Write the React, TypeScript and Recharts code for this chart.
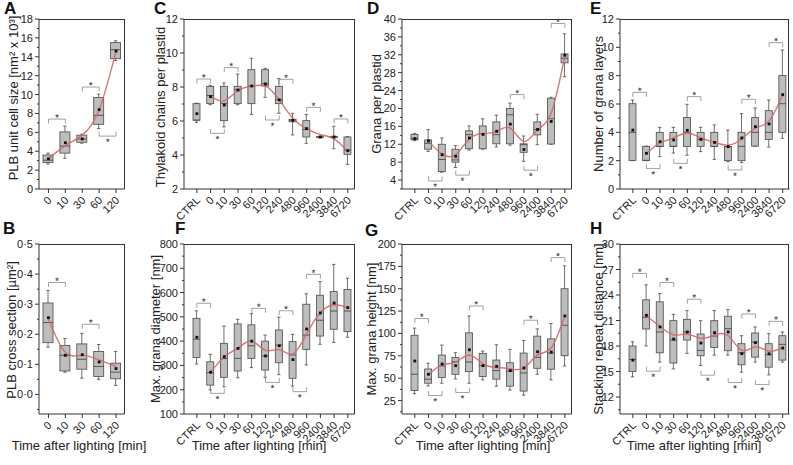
import { ComposedChart, Bar, Line, XAxis, YAxis, ReferenceLine } from 'recharts'

const SHORT_CATS = ['0', '10', '30', '60', '120']
const LONG_CATS = ['CTRL', '0', '10', '30', '60', '120', '240', '480', '960', '2400', '3840', '6720']

// box stats per time point: [min, q1, median, q3, max]
const A_BOX = [
    [2.65, 2.8, 3.05, 3.6, 3.8],
    [3.25, 3.8, 4.55, 6.05, 6.65],
    [4.85, 4.95, 5.3, 5.7, 5.8],
    [6.4, 6.85, 7.8, 9.7, 10.05],
    [13.6, 13.8, 14.75, 15.5, 15.7],
]
const A_MEAN = [3.2, 4.9, 5.3, 8.4, 14.6]
const A_FIT = [3.2, 4.6, 5.7, 8.4, 14.6]
const A_TICKS = [0, 2, 4, 6, 8, 10, 12, 14, 16, 18]
// significance brackets: [from, to, y, side] (side 1 = star above, -1 = star below)
const A_SIG = [['0', '10', 7.4, 1], ['30', '60', 10.8, 1], ['60', '120', 5.6, -1]]

const B_BOX = [
    [0.157, 0.172, 0.239, 0.304, 0.346],
    [0.074, 0.078, 0.13, 0.163, 0.186],
    [0.054, 0.084, 0.117, 0.168, 0.203],
    [0.05, 0.06, 0.093, 0.143, 0.166],
    [0.03, 0.052, 0.074, 0.104, 0.143],
]
const B_MEAN = [0.255, 0.13, 0.132, 0.108, 0.086]
const B_FIT = [0.25, 0.14, 0.13, 0.115, 0.093]
const B_TICKS = [0, 0.1, 0.2, 0.3, 0.4, 0.5]
const B_SIG = [['0', '10', 0.372, 1], ['30', '60', 0.233, 1]]

const C_BOX = [
    [5.92, 6.05, 6.05, 7.02, 7.05],
    [6.96, 7.02, 7.5, 8.04, 8.1],
    [5.65, 6.02, 7.04, 8.04, 8.24],
    [6.96, 7.02, 7.86, 8.04, 8.76],
    [6.39, 7.02, 8.06, 9.02, 9.69],
    [7.39, 8.06, 8.2, 9.02, 9.1],
    [6.45, 7.02, 7.25, 8.04, 8.5],
    [5.18, 5.95, 6.04, 6.1, 6.45],
    [4.69, 5.06, 5.5, 6.02, 6.39],
    [5.0, 5.04, 5.06, 5.08, 5.1],
    [4.37, 5.02, 5.06, 5.1, 5.69],
    [3.45, 4.04, 4.3, 5.06, 5.08],
]
const C_MEAN = [6.43, 7.43, 6.94, 7.82, 8.06, 8.18, 7.24, 6.04, 5.55, 5.06, 5.06, 4.25]
const C_FIT = [null, 7.45, 7.2, 7.8, 8.05, 8.05, 7.25, 6.15, 5.55, 5.2, 4.95, 4.2]
const C_TICKS = [2, 4, 6, 8, 10, 12]
const C_SIG = [
    ['CTRL', '0', 8.47, 1], ['0', '10', 5.27, -1], ['10', '30', 9.14, 1], ['120', '240', 6.06, -1],
    ['240', '480', 8.45, 1], ['960', '2400', 6.8, 1], ['3840', '6720', 6.12, 1],
]

const D_BOX = [
    [12.8, 12.97, 13.3, 14.23, 14.4],
    [10.4, 10.9, 12.2, 12.97, 15.26],
    [5.75, 5.9, 8.6, 12.0, 13.4],
    [6.8, 8.0, 8.5, 10.9, 11.7],
    [10.7, 11.0, 14.15, 15.0, 16.1],
    [10.9, 11.0, 14.4, 16.1, 17.7],
    [11.4, 12.1, 14.15, 17.0, 18.5],
    [11.8, 12.1, 18.6, 20.0, 21.2],
    [8.2, 10.2, 11.9, 12.1, 13.85],
    [11.9, 14.1, 15.3, 17.0, 18.7],
    [12.0, 12.05, 17.7, 22.3, 22.5],
    [27.1, 30.2, 31.2, 32.2, 36.7],
]
const D_MEAN = [13.27, 12.75, 9.66, 9.3, 13.4, 14.2, 14.9, 16.5, 10.84, 15.3, 17.1, 31.9]
const D_FIT = [null, 12.7, 9.8, 9.7, 13.2, 14.4, 14.9, 15.6, 12.6, 15.2, 19.0, 31.8]
const D_TICKS = [4, 8, 12, 16, 20, 24, 28, 32, 36, 40]
const D_SIG = [
    ['0', '10', 3.8, -1], ['30', '60', 5.1, -1], ['480', '960', 23.1, 1],
    ['960', '2400', 6.2, -1], ['3840', '6720', 39.0, 1],
]

const E_BOX = [
    [2.0, 2.02, 4.0, 6.02, 6.28],
    [2.0, 2.02, 2.02, 3.01, 3.03],
    [2.28, 3.01, 3.01, 4.0, 4.35],
    [2.54, 3.01, 3.01, 4.0, 4.35],
    [2.38, 3.01, 4.0, 5.04, 5.98],
    [2.64, 3.01, 3.5, 4.0, 4.35],
    [2.09, 3.01, 3.01, 4.0, 4.52],
    [1.93, 2.0, 3.0, 3.01, 4.16],
    [1.86, 2.0, 3.01, 4.0, 5.32],
    [3.01, 3.03, 4.0, 5.04, 5.72],
    [2.96, 3.5, 4.0, 5.53, 6.28],
    [3.58, 4.0, 6.02, 8.02, 9.81],
]
const E_MEAN = [4.16, 2.52, 3.34, 3.46, 4.14, 3.5, 3.29, 2.99, 3.6, 4.4, 4.59, 6.66]
const E_FIT = [null, 2.5, 3.25, 3.6, 3.95, 3.6, 3.3, 3.1, 3.55, 4.3, 4.8, 6.65]
const E_TICKS = [0, 2, 4, 6, 8, 10, 12]
const E_SIG = [
    ['CTRL', '0', 6.82, 1], ['0', '10', 1.44, -1], ['30', '60', 1.81, -1], ['60', '120', 6.52, 1],
    ['480', '960', 1.34, -1], ['960', '2400', 6.33, 1], ['3840', '6720', 10.33, 1],
]

const F_BOX = [
    [306, 333, 408, 494, 525],
    [199, 219, 270, 315, 346],
    [212, 251, 328, 391, 462],
    [249, 277, 329, 471, 490],
    [291, 329, 381, 467, 513],
    [251, 281, 339, 400, 425],
    [262, 311, 384, 446, 499],
    [215, 247, 343, 398, 428],
    [302, 366, 425, 552, 595],
    [387, 421, 486, 589, 645],
    [395, 449, 524, 604, 716],
    [416, 439, 524, 613, 659],
]
const F_MEAN = [416, 272, 336, 370, 400, 339, 381, 324, 450, 516, 557, 538]
const F_FIT = [null, 272, 336, 372, 400, 362, 365, 348, 430, 518, 550, 538]
const F_TICKS = [100, 200, 300, 400, 500, 600, 700, 800]
const F_SIG = [
    ['CTRL', '0', 556, 1], ['0', '10', 185, -1], ['60', '120', 535, 1], ['120', '240', 230, -1],
    ['240', '480', 525, 1], ['480', '960', 192, -1], ['960', '2400', 675, 1],
]

const G_BOX = [
    [32.6, 36.3, 54.4, 98, 106],
    [41.4, 44.4, 48.9, 60.3, 66.7],
    [44.4, 50.7, 63.7, 75.9, 87],
    [49.2, 54.4, 68.5, 73.3, 78.5],
    [44.4, 57.4, 68.1, 100.7, 119.6],
    [48.1, 51.8, 64, 77.8, 80.3],
    [41.1, 48.9, 58.5, 70.3, 87.4],
    [36.7, 41.1, 58, 67.3, 82.2],
    [31.1, 35.6, 55.9, 78.1, 92.2],
    [54.4, 61.1, 73.3, 97, 105.1],
    [48.1, 60, 78.1, 94, 111.1],
    [63.7, 75.1, 109.2, 150, 175.6],
]
const G_MEAN = [69.2, 54.4, 65.9, 64, 81.8, 64, 63.3, 58.5, 61.4, 79.6, 79.2, 119.6]
const G_FIT = [null, 54, 65, 68, 76, 66, 62, 60.5, 61.5, 76, 84, 119.6]
const G_TICKS = [25, 50, 75, 100, 125, 150, 175, 200]
const G_SIG = [
    ['CTRL', '0', 116.7, 1], ['0', '10', 30.7, -1], ['30', '60', 34, -1],
    ['60', '120', 130.7, 1], ['960', '2400', 114.8, 1], ['3840', '6720', 184.8, 1],
]

const H_BOX = [
    [14.37, 15.0, 16.42, 18.0, 18.5],
    [18.0, 20.0, 21.38, 23.43, 25.2],
    [16.1, 17.2, 19.65, 23.2, 24.17],
    [15.31, 16.0, 18.7, 20.98, 21.73],
    [17.13, 18.7, 19.65, 21.14, 22.17],
    [15.71, 16.85, 17.48, 19.41, 20.98],
    [16.93, 17.83, 19.17, 20.98, 22.17],
    [16.93, 17.44, 20.04, 21.5, 22.28],
    [14.92, 15.79, 17.2, 18.27, 19.21],
    [16.1, 16.69, 18.46, 19.53, 20.24],
    [14.6, 15.51, 16.97, 18.27, 19.45],
    [16.1, 16.34, 18.19, 19.21, 19.65],
]
const H_MEAN = [16.34, 21.61, 20.24, 18.82, 19.65, 18.35, 19.57, 19.65, 17.1, 18.39, 17.09, 17.76]
const H_FIT = [null, 21.5, 20.3, 19.3, 19.4, 18.9, 19.3, 19.2, 17.5, 17.9, 17.4, 17.8]
const H_TICKS = [12, 15, 18, 21, 24, 27, 30]
const H_SIG = [
    ['CTRL', '0', 26.54, 1], ['0', '10', 15.04, -1], ['10', '30', 25.47, 1], ['60', '120', 23.5, 1],
    ['120', '240', 14.57, -1], ['480', '960', 13.7, -1], ['960', '2400', 21.77, 1],
    ['2400', '3840', 13.46, -1], ['3840', '6720', 20.9, 1],
]

const FONT = "'Liberation Sans', Arial, Helvetica, sans-serif"
const AXIS = '#333'
const BOX_FILL = '#bdbdbd'
const BOX_STROKE = '#4a4a4a'
const FIT_COLOR = '#d5676c'
const SIG_COLOR = '#8a8a8a'

const plain = (v: number) => String(v)
const dotted = (v: number) => v.toFixed(1).replace('.', '·')

const PANELS = [
    { id: 'A', cats: SHORT_CATS, box: A_BOX, mean: A_MEAN, fit: A_FIT, sig: A_SIG, majors: A_TICKS, domain: [0, 18], fmt: plain,
      rect: [39, 19, 124.5, 189], pad: 1, barSize: 10, title: 'PLB unit cell size [nm² x 10³]', titleX: 13, titleY: 98, letter: [4, 14] },
    { id: 'B', cats: SHORT_CATS, box: B_BOX, mean: B_MEAN, fit: B_FIT, sig: B_SIG, majors: B_TICKS, domain: [-0.065, 0.5], fmt: dotted,
      rect: [39, 244, 124.5, 414], pad: 1, barSize: 10, title: 'PLB cross section [µm²]', titleX: 11, titleY: 330, letter: [3, 234], time: 79 },
    { id: 'C', cats: LONG_CATS, box: C_BOX, mean: C_MEAN, fit: C_FIT, sig: C_SIG, majors: C_TICKS, domain: [2, 12], fmt: plain,
      rect: [184.3, 19, 355, 189], pad: 6, barSize: 7, title: 'Thylakoid chains per plastid', titleX: 160, titleY: 107, letter: [154, 14] },
    { id: 'F', cats: LONG_CATS, box: F_BOX, mean: F_MEAN, fit: F_FIT, sig: F_SIG, majors: F_TICKS, domain: [100, 800], fmt: plain,
      rect: [184.3, 244, 355, 414], pad: 6, barSize: 7, title: 'Max. grana diameter [nm]', titleX: 155, titleY: 329, letter: [175, 234], time: 259 },
    { id: 'D', cats: LONG_CATS, box: D_BOX, mean: D_MEAN, fit: D_FIT, sig: D_SIG, majors: D_TICKS, domain: [2, 40], fmt: plain,
      rect: [402.3, 19, 572, 189], pad: 6, barSize: 7, title: 'Grana per plastid', titleX: 376, titleY: 104, letter: [367, 14] },
    { id: 'G', cats: LONG_CATS, box: G_BOX, mean: G_MEAN, fit: G_FIT, sig: G_SIG, majors: G_TICKS, domain: [10, 200], fmt: plain,
      rect: [402.3, 244, 572, 414], pad: 6, barSize: 7, title: 'Max. grana height [nm]', titleX: 371, titleY: 329, letter: [365, 236], time: 483 },
    { id: 'E', cats: LONG_CATS, box: E_BOX, mean: E_MEAN, fit: E_FIT, sig: E_SIG, majors: E_TICKS, domain: [0, 12], fmt: plain,
      rect: [619.5, 19, 789, 189], pad: 6, barSize: 7, title: 'Number of grana layers', titleX: 598, titleY: 104, letter: [590, 14] },
    { id: 'H', cats: LONG_CATS, box: H_BOX, mean: H_MEAN, fit: H_FIT, sig: H_SIG, majors: H_TICKS, domain: [10, 30], fmt: plain,
      rect: [619.5, 244, 789, 414], pad: 6, barSize: 7, title: 'Stacking repeat distance [nm]', titleX: 598, titleY: 329, letter: [590, 234], time: 694 },
]

function withMinors(majors: number[], lo: number) {
    const step = majors[1] - majors[0]
    const out = [...majors]
    majors.slice(0, -1).forEach((m, i) => out.push((m + majors[i + 1]) / 2))
    if (majors[0] - step / 2 >= lo) out.push(majors[0] - step / 2)
    return out.sort((a, b) => a - b)
}

function BoxShape(props: any) {
    const { x, y, width, height } = props
    const d = props.payload || props
    const [mn, q1, md, q3, mx] = d.box
    const top = Math.min(y, y + height)
    const bot = Math.max(y, y + height)
    const py = (v: number) => bot - ((bot - top) * (v - mn)) / (mx - mn)
    const cx = x + width / 2
    const cap = 1.7
    return (
        <g>
            <line x1={cx} x2={cx} y1={py(mx)} y2={py(q3)} stroke={BOX_STROKE} strokeWidth={0.8} />
            <line x1={cx} x2={cx} y1={py(q1)} y2={py(mn)} stroke={BOX_STROKE} strokeWidth={0.8} />
            <line x1={cx - cap} x2={cx + cap} y1={py(mx)} y2={py(mx)} stroke={BOX_STROKE} strokeWidth={0.8} />
            <line x1={cx - cap} x2={cx + cap} y1={py(mn)} y2={py(mn)} stroke={BOX_STROKE} strokeWidth={0.8} />
            <rect x={x} y={py(q3)} width={width} height={Math.max(py(q1) - py(q3), 0.5)} fill={BOX_FILL} stroke={BOX_STROKE} strokeWidth={0.8} />
            <line x1={x} x2={x + width} y1={py(md)} y2={py(md)} stroke={BOX_STROKE} strokeWidth={0.9} />
        </g>
    )
}

function MeanDot(p: any) {
    if (p.cy == null) return <g key={p.index} />
    return <rect key={p.index} x={p.cx - 1.4} y={p.cy - 1.4} width={2.8} height={2.8} fill="#111" />
}

function StarLabel({ viewBox, side }: any) {
    if (!viewBox) return null
    const { x, y, width, height } = viewBox
    const tx = x + width / 2
    const ty = side > 0 ? y + 1.8 : y + (height || 0) + 9.2
    return (
        <text x={tx} y={ty} transform={`rotate(0.5,${tx},${ty})`} textAnchor="middle" fontSize={10} fill="#333" fontFamily={FONT}>*</text>
    )
}

function XTick({ x, y, payload }: any) {
    return (
        <g>
            <line x1={x} x2={x} y1={y} y2={y + 4} stroke={AXIS} />
            <text transform={`translate(${x + 4},${y + 12}) rotate(-45)`} textAnchor="end" fontSize={11} fill="#222" fontFamily={FONT}>
                {payload.value}
            </text>
        </g>
    )
}

function YTick({ x, y, payload, majors, fmt }: any) {
    const v = payload.value
    const major = majors.some((m: number) => Math.abs(m - v) < 1e-9)
    return (
        <g>
            <line x1={x} x2={x - (major ? 4 : 2)} y1={y} y2={y} stroke={AXIS} />
            {major && (
                <text x={x - 6} y={y} dy={4} textAnchor="end" fontSize={11} fill="#222" fontFamily={FONT}>
                    {fmt(v)}
                </text>
            )}
        </g>
    )
}

function Panel({ cfg }: { cfg: any }) {
    const [L, T, R, B] = cfg.rect
    const YW = 34, MT = 8, MR = 4, XH = 34
    const w = YW + (R - L) + MR
    const h = MT + (B - T) + XH
    const [lo, hi] = cfg.domain
    const leg = ((hi - lo) * 4.5) / (B - T)
    const rows = cfg.cats.map((c: string, i: number) => ({
        cat: c,
        range: [cfg.box[i][0], cfg.box[i][4]],
        box: cfg.box[i],
        mean: cfg.mean[i],
        fit: cfg.fit[i],
    }))

    const brackets: any[] = []
    cfg.sig.forEach(([a, b, yv, side]: any, i: number) => {
        const end = yv - side * leg
        brackets.push(
            <ReferenceLine key={`h${i}`} segment={[{ x: a, y: yv }, { x: b, y: yv }]} stroke={SIG_COLOR} strokeWidth={0.8}
                label={<StarLabel side={side} />} />,
            <ReferenceLine key={`l${i}`} segment={[{ x: a, y: yv }, { x: a, y: end }]} stroke={SIG_COLOR} strokeWidth={0.8} />,
            <ReferenceLine key={`r${i}`} segment={[{ x: b, y: yv }, { x: b, y: end }]} stroke={SIG_COLOR} strokeWidth={0.8} />,
        )
    })

    return (
        <>
            <div style={{ position: 'absolute', left: L - YW, top: T - MT, width: w, height: h }}>
                <ComposedChart width={w} height={h} data={rows} margin={{ top: MT, right: MR, bottom: 0, left: 0 }}>
                    <XAxis dataKey="cat" height={XH} interval={0} padding={{ left: cfg.pad, right: 0 }}
                        tickLine={false} tickSize={0} tickMargin={0} axisLine={{ stroke: AXIS }} tick={<XTick />} />
                    <YAxis type="number" domain={cfg.domain} ticks={withMinors(cfg.majors, lo)} interval={0} width={YW}
                        allowDataOverflow tickLine={false} tickSize={0} tickMargin={0} axisLine={{ stroke: AXIS }}
                        tick={(p: any) => <YTick {...p} majors={cfg.majors} fmt={cfg.fmt} />} />
                    {brackets}
                    <Bar dataKey="range" barSize={cfg.barSize} shape={BoxShape} isAnimationActive={false} />
                    <Line dataKey="fit" type="natural" stroke={FIT_COLOR} strokeWidth={1.4} strokeOpacity={0.9} dot={false} activeDot={false} isAnimationActive={false} />
                    <Line dataKey="mean" stroke="none" dot={MeanDot} activeDot={false} isAnimationActive={false} />
                </ComposedChart>
            </div>
            <div style={{ position: 'absolute', left: L, top: T, width: R - L, height: B - T, boxSizing: 'border-box', borderTop: `1px solid ${AXIS}`, borderRight: `1px solid ${AXIS}`, pointerEvents: 'none' }} />
        </>
    )
}

export default function App() {
    return (
        <div style={{ position: 'absolute', left: 0, top: 0, width: 793, height: 465, background: '#fff', fontFamily: FONT }}>
            {PANELS.map(p => <Panel key={p.id} cfg={p} />)}
            <svg width={793} height={465} style={{ position: 'absolute', left: 0, top: 0, pointerEvents: 'none' }}>
                {PANELS.map(p => (
                    <g key={p.id} fontFamily={FONT}>
                        <text x={p.letter[0]} y={p.letter[1]} fontSize={17} fontWeight="bold" fill="#111">{p.id}</text>
                        <text transform={`translate(${p.titleX},${p.titleY}) rotate(-90)`} textAnchor="middle" dy={4.5} fontSize={13} fill="#222">
                            {p.title}
                        </text>
                        {p.time && (
                            <text x={p.time} y={450} textAnchor="middle" fontSize={13} fill="#222">Time after lighting [min]</text>
                        )}
                    </g>
                ))}
            </svg>
        </div>
    )
}
